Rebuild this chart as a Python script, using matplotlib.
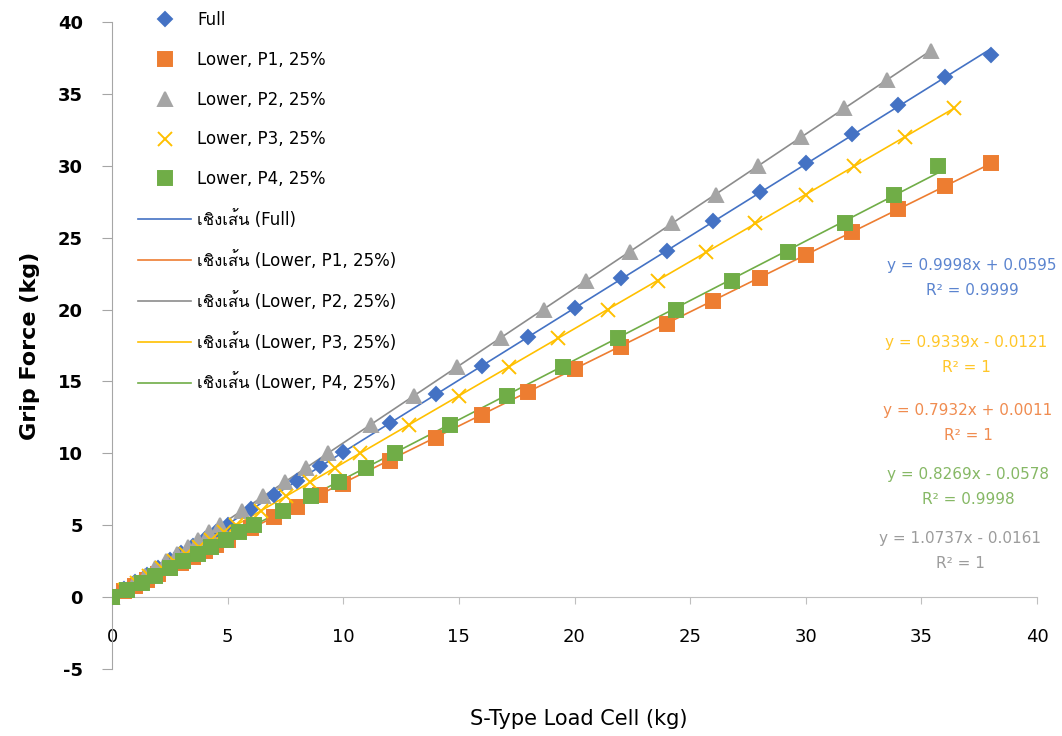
import numpy as np
import matplotlib
matplotlib.use("Agg")
import matplotlib.pyplot as plt
from matplotlib import font_manager as fm
from matplotlib.ft2font import FT2Font

# --- data ---
# Full and P1 were logged on round load-cell values
x_grid = [0, 0.5, 1, 1.5, 2, 2.5, 3, 3.5, 4, 4.5, 5, 6, 7, 8, 9, 10,
          12, 14, 16, 18, 20, 22, 24, 26, 28, 30, 32, 34, 36, 38]
full_y = [0, 0.55, 1.05, 1.55, 2.05, 2.55, 3.05, 3.55, 4.05, 4.55, 5.05, 6.15, 7.1, 8.1, 9.1, 10.1,
          12.1, 14.1, 16.1, 18.1, 20.1, 22.2, 24.1, 26.15, 28.2, 30.2, 32.2, 34.2, 36.2, 37.7]
p1_y = [0, 0.4, 0.8, 1.2, 1.6, 2.0, 2.4, 2.8, 3.2, 3.6, 4.0, 4.8, 5.6, 6.3, 7.1, 7.9,
        9.5, 11.1, 12.7, 14.3, 15.9, 17.4, 19.0, 20.6, 22.2, 23.8, 25.4, 27.0, 28.6, 30.2]

# P2..P4 were logged on round grip-force values
p2_y = [0, 0.5, 1, 1.5, 2, 2.5, 3, 3.5, 4, 4.5, 5, 6, 7, 8, 9, 10,
        12, 14, 16, 18, 20, 22, 24, 26, 28, 30, 32, 34, 36, 38]
p2_x = [0, 0.47, 0.95, 1.41, 1.88, 2.34, 2.81, 3.27, 3.74, 4.21, 4.67, 5.6, 6.53, 7.46, 8.4, 9.33,
        11.19, 13.05, 14.92, 16.8, 18.7, 20.5, 22.4, 24.2, 26.1, 27.95, 29.8, 31.65, 33.5, 35.4]
p3_y = [0, 0.5, 1, 1.5, 2, 2.5, 3, 3.5, 4, 4.5, 5, 6, 7, 8, 9, 10,
        12, 14, 16, 18, 20, 22, 24, 26, 28, 30, 32, 34]
p3_x = [0, 0.55, 1.08, 1.62, 2.15, 2.69, 3.22, 3.76, 4.3, 4.83, 5.37, 6.44, 7.51, 8.58, 9.65, 10.72,
        12.86, 15.0, 17.15, 19.3, 21.45, 23.6, 25.7, 27.8, 30.0, 32.1, 34.3, 36.4]
p4_y = [0, 0.5, 1, 1.5, 2, 2.5, 3, 3.5, 4, 4.5, 5, 6, 7, 8, 9, 10,
        12, 14, 16, 18, 20, 22, 24, 26, 28, 30]
p4_x = [0, 0.65, 1.28, 1.88, 2.49, 3.09, 3.7, 4.3, 4.91, 5.51, 6.12, 7.4, 8.6, 9.8, 11.0, 12.24,
        14.6, 17.1, 19.5, 21.9, 24.4, 26.8, 29.25, 31.7, 33.8, 35.7]

names = ["Full", "Lower, P1, 25%", "Lower, P2, 25%", "Lower, P3, 25%", "Lower, P4, 25%"]
eqs = ["y = 0.9998x + 0.0595\nR² = 0.9999",
       "y = 0.7932x + 0.0011\nR² = 1",
       "y = 1.0737x - 0.0161\nR² = 1",
       "y = 0.9339x - 0.0121\nR² = 1",
       "y = 0.8269x - 0.0578\nR² = 0.9998"]

colors = ["#4472C4", "#ED7D31", "#A5A5A5", "#FFC000", "#70AD47"]
line_colors = ["#4472C4", "#ED7D31", "#8C8C8C", "#FFC000", "#70AD47"]
text_colors = ["#5B84CF", "#F08C50", "#9C9C9C", "#FFC629", "#86B865"]
markers = ["D", "s", "^", "x", "s"]
msizes = [7.3, 9.5, 10, 10, 9.5]

# find a font that has Thai glyphs
thai_font = None
for f in fm.fontManager.ttflist:
    try:
        if 0x0E40 in FT2Font(f.fname).get_charmap():
            thai_font = f.name
            break
    except Exception:
        pass
fams = ["DejaVu Sans"] + ([thai_font] if thai_font else [])
plt.rcParams["font.family"] = fams
plt.rcParams["axes.unicode_minus"] = False

fig = plt.figure(figsize=(10.62, 7.36), dpi=100)
ax = fig.add_axes([112/1062, 67/736, 925/1062, 647/736])

series = [(x_grid, full_y), (x_grid, p1_y), (p2_x, p2_y), (p3_x, p3_y), (p4_x, p4_y)]

for i, (xs, ys) in enumerate(series):
    ax.plot(xs, ys, linestyle="none", marker=markers[i], ms=msizes[i],
            color=colors[i], mec=colors[i], mew=1.4, label=names[i], zorder=3)

for i, (xs, ys) in enumerate(series):
    m, b = np.polyfit(xs, ys, 1)
    xx = np.array([min(xs), max(xs)])
    ax.plot(xx, m*xx + b, color=line_colors[i], lw=1.2,
            label="เชิงเส้น (" + names[i] + ")", zorder=2)

ax.set_xlim(0, 40)
ax.set_ylim(-5, 40)
ax.set_xticks(np.arange(0, 41, 5))
ax.set_yticks(np.arange(-5, 41, 5))

for s in ["top", "right"]:
    ax.spines[s].set_visible(False)
ax.spines["bottom"].set_position(("data", 0))
ax.spines["bottom"].set_color("#BFBFBF")
ax.spines["left"].set_color("#A6A6A6")
ax.tick_params(axis="x", direction="out", length=5, color="#BFBFBF", pad=17,
               labelsize=13)
ax.tick_params(axis="y", direction="out", length=7, color="#A6A6A6", pad=14,
               labelsize=13)
for t in ax.get_yticklabels():
    t.set_fontweight("bold")

ax.set_xlabel("S-Type Load Cell (kg)", fontsize=15, va="center")
ax.xaxis.set_label_coords(0.505, -0.077)
ax.set_ylabel("Grip Force (kg)", fontsize=16, fontweight="semibold")
ax.yaxis.set_label_coords(-0.078, 0.5)

leg = ax.legend(loc="upper left", bbox_to_anchor=(138/1062, 1 - 11/736),
                bbox_transform=fig.transFigure, frameon=False, fontsize=12,
                labelspacing=1.31, handlelength=3.2, handletextpad=0.35,
                borderpad=0, borderaxespad=0)

# trendline equations at the right
eq_pos = [(972, 278), (968, 423), (960, 551), (966, 355), (968, 487)]
for i in range(5):
    fig.text(eq_pos[i][0]/1062, 1 - eq_pos[i][1]/736, eqs[i], color=text_colors[i],
             fontsize=11, ha="center", va="center", linespacing=1.85)

fig.savefig("out.png", dpi=100)
